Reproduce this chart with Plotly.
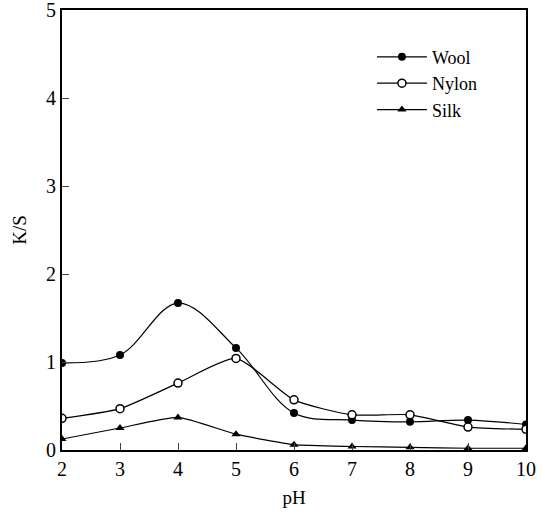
import plotly.graph_objects as go

ph = [2, 3, 4, 5, 6, 7, 8, 9, 10]
wool = [0.99, 1.08, 1.67, 1.16, 0.42, 0.34, 0.32, 0.34, 0.29]
nylon = [0.36, 0.47, 0.76, 1.04, 0.57, 0.40, 0.40, 0.26, 0.235]
silk = [0.125, 0.25, 0.37, 0.18, 0.06, 0.04, 0.03, 0.02, 0.02]

serif = "Liberation Serif"

fig = go.Figure()
fig.add_trace(go.Scatter(x=ph, y=wool, name="Wool", mode="lines+markers",
                         line=dict(color="black", width=1.2, shape="spline", smoothing=1.0),
                         marker=dict(symbol="circle", size=8, color="black")))
fig.add_trace(go.Scatter(x=ph, y=nylon, name="Nylon", mode="lines+markers",
                         line=dict(color="black", width=1.2, shape="spline", smoothing=0.6),
                         marker=dict(symbol="circle", size=8, color="white",
                                     line=dict(color="black", width=1.5))))
fig.add_trace(go.Scatter(x=ph, y=silk, name="Silk", mode="lines+markers",
                         line=dict(color="black", width=1.2, shape="spline", smoothing=0.5),
                         marker=dict(symbol="triangle-up", size=8, color="black")))

fig.update_layout(
    width=545, height=514,
    margin=dict(l=62, r=19, t=10, b=64, autoexpand=False),
    paper_bgcolor="white", plot_bgcolor="white",
    font=dict(family=serif, size=19, color="black"),
    showlegend=True,
    legend=dict(x=0.668, y=0.935, xanchor="left", yanchor="top",
                bgcolor="rgba(0,0,0,0)", font=dict(family=serif, size=18),
                itemwidth=50, tracegroupgap=0),
    xaxis=dict(range=[2, 10], tickvals=ph, ticks="inside", ticklen=7,
               showline=True, linecolor="black", linewidth=2, mirror=True,
               showgrid=False, zeroline=False, automargin=False,
               ticklabeloverflow="allow",
               tickfont=dict(family=serif, size=20),
               title=dict(text="pH", font=dict(family=serif, size=19), standoff=12)),
    yaxis=dict(range=[0, 5], tickvals=[0, 1, 2, 3, 4, 5], ticks="inside", ticklen=7,
               showline=True, linecolor="black", linewidth=2, mirror=True,
               showgrid=False, zeroline=False, automargin=False,
               ticklabeloverflow="allow",
               tickfont=dict(family=serif, size=20),
               title=dict(text="K/S", font=dict(family=serif, size=19), standoff=14)),
)

fig.write_html("out.html", config={"displayModeBar": False},
               post_script="document.body.style.margin='0';")
